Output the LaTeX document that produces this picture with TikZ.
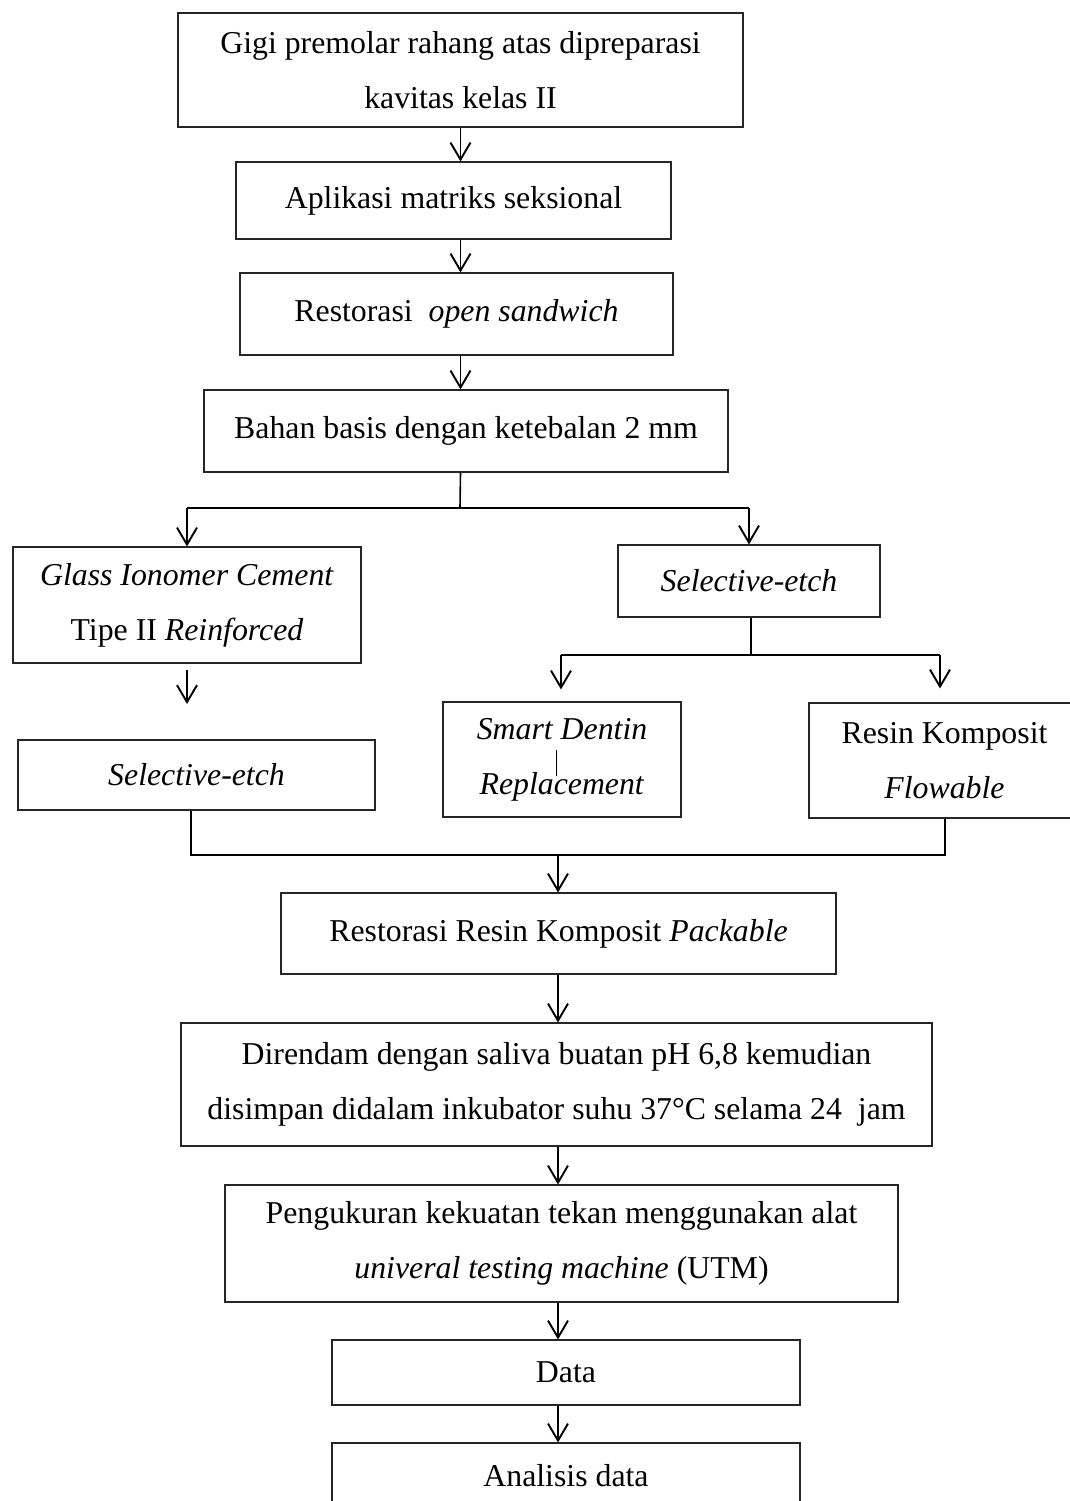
\documentclass[tikz,border=0pt]{standalone}
\usepackage{fontspec}
\setmainfont{Liberation Serif}
\usetikzlibrary{arrows.meta}
\begin{document}
\begin{tikzpicture}[x=0.5pt,y=-0.5pt,
  box/.style={draw=black!85, line width=0.55pt, inner sep=0pt, align=center,
    font=\fontsize{15.9}{27.5}\selectfont},
  arr/.style={line width=0.95pt, -{Straight Barb[length=8.5pt,width=10pt,line width=0.95pt]}},
  ln/.style={line width=0.8pt}]
\useasboundingbox (0,0) rectangle (1070,1501);
\clip (0,0) rectangle (1070,1501);

\node[box, minimum width=282.5pt, minimum height=57pt] (b1) at (460.5,70)
  {Gigi premolar rahang atas dipreparasi\\kavitas kelas II};
\node[box, minimum width=217.5pt, minimum height=38.5pt] (b2) at (453.5,200.5)
  {Aplikasi matriks seksional};
\node[box, minimum width=216.5pt, minimum height=41pt] (b3) at (456.5,314)
  {Restorasi\ \ \textit{open sandwich}};
\node[box, minimum width=262pt, minimum height=41pt] (b4) at (466,431)
  {Bahan basis dengan ketebalan 2 mm};
\node[box, minimum width=174pt, minimum height=58pt] (b5) at (187,605)
  {\textit{Glass Ionomer Cement}\\Tipe II \textit{Reinforced}};
\node[box, minimum width=131pt, minimum height=36pt] (b6) at (749,581)
  {\textit{Selective-etch}};
\node[box, minimum width=178.5pt, minimum height=35pt] (b7) at (196.5,775)
  {\textit{Selective-etch}};
\node[box, minimum width=119pt, minimum height=57.5pt] (b8) at (562,759.5)
  {\textit{Smart Dentin}\\\textit{Replacement}};
\node[box, minimum width=135.5pt, minimum height=57.5pt] (b9) at (944.5,760.5)
  {Resin Komposit\\\textit{Flowable}};
\node[box, minimum width=277.5pt, minimum height=40.5pt] (b10) at (558.5,933.5)
  {Restorasi Resin Komposit \textit{Packable}};
\node[box, minimum width=375.5pt, minimum height=61.5pt] (b11) at (556.5,1084.5)
  {Direndam dengan saliva buatan pH 6,8 kemudian\\disimpan didalam inkubator suhu 37°C selama 24\ \ jam};
\node[box, minimum width=336.5pt, minimum height=58.5pt] (b12) at (561.5,1243.5)
  {Pengukuran kekuatan tekan menggunakan alat\\\textit{univeral testing machine} (UTM)};
\node[box, minimum width=234pt, minimum height=32.5pt] (b13) at (566,1372.5)
  {Data};
\node[box, minimum width=234pt, minimum height=32.5pt] (b14) at (566,1475.5)
  {Analisis data};

% top chain
\draw[arr] (b1.south) -- (b1.south |- b2.north);
\draw[arr] (b1.south |- b2.south) -- (b1.south |- b3.north);
\draw[arr] (b1.south |- b3.south) -- (b1.south |- b4.north);

% first branch
\coordinate (j1) at (460,508);
\draw[ln] (b1.south |- b4.south) -- (j1);
\draw[ln] (j1 -| b5.north) -- (j1 -| b6.north);
\draw[arr] (j1 -| b5.north) -- (b5.north);
\draw[arr] (j1 -| b6.north) -- (b6.north);

% free arrow under GIC
\coordinate (g1) at (187,670);
\coordinate (g2) at (187,704);
\draw[arr] (g1) -- (g2);

% second branch
\coordinate (j2) at (751,655);
\draw[ln] (j2 |- b6.south) -- (j2);
\coordinate (j2l) at (561,655);
\coordinate (j2r) at (940,655);
\draw[ln] (j2l) -- (j2r);
\draw[arr, shorten >=6pt] (j2l) -- (j2l |- b8.north);
\draw[arr, shorten >=7pt] (j2r) -- (j2r |- b9.north);

% small stray mark inside Smart Dentin box
\draw[line width=0.5pt] (556,750) -- (556,776);

% merge
\coordinate (m1) at (191,855);
\coordinate (m2) at (945,855);
\coordinate (m3) at (558,855);
\draw[line width=0.95pt] (m1 |- b7.south) -- (m1) -- (m2) -- (m2 |- b9.south);
\draw[arr] (m3) -- (m3 |- b10.north);

% lower chain
\draw[arr] (m3 |- b10.south) -- (m3 |- b11.north);
\draw[arr] (m3 |- b11.south) -- (m3 |- b12.north);
\draw[arr] (m3 |- b12.south) -- (m3 |- b13.north);
\draw[arr] (m3 |- b13.south) -- (m3 |- b14.north);
\end{tikzpicture}
\end{document}
